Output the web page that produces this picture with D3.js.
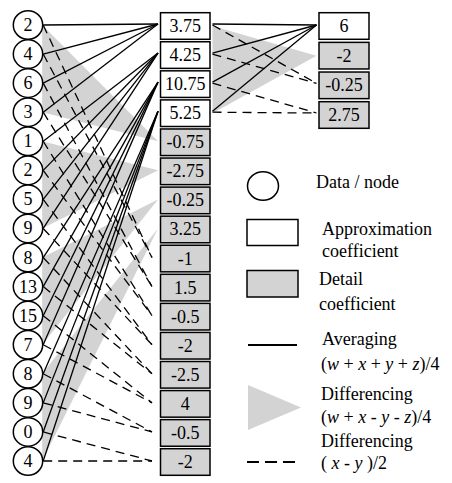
<!DOCTYPE html>
<html>
<head>
<meta charset="utf-8">
<script src="https://cdn.jsdelivr.net/npm/d3@7"></script>
<style>
  body { margin: 0; background: #fff; }
  svg text { font-family: "Liberation Serif", Tinos, "Times New Roman", Times, "DejaVu Serif", serif; font-size: 18px; fill: #000; }
</style>
</head>
<body>
<div id="chart"></div>
<script>
// input data (level 0)
var nodeValues = [2, 4, 6, 3, 1, 2, 5, 9, 8, 13, 15, 7, 8, 9, 0, 4];
// level 1: 4 averages, 4 (w+x-y-z)/4, 8 (x-y)/2
var level1Labels = ["3.75", "4.25", "10.75", "5.25", "-0.75", "-2.75", "-0.25", "3.25",
  "-1", "1.5", "-0.5", "-2", "-2.5", "4", "-0.5", "-2"];
var level1Approx = [true, true, true, true, false, false, false, false,
  false, false, false, false, false, false, false, false];
// level 2
var level2Labels = ["6", "-2", "-0.25", "2.75"];
var level2Approx = [true, false, false, false];

var svgWidth = 452;
var svgHeight = 483;
var grey = "#d3d3d3";

var svg = d3.select("#chart")
  .append("svg")
  .attr("width", svgWidth)
  .attr("height", svgHeight)
  .attr("font-family", "Liberation Serif, serif");

// scales for row positions
var yNode = d3.scaleLinear().domain([0, nodeValues.length - 1]).range([25, 461]);
var yBox1 = d3.scaleLinear().domain([0, level1Labels.length - 1]).range([26, 462]);
var yBox2 = d3.scaleLinear().domain([0, level2Labels.length - 1]).range([26, 115]);

var nodeX = 28, nodeRx = 14.7, nodeRy = 14.3;
var nodeOut = nodeX + nodeRx + 0.5;
var box1X = 160.5, box1W = 49.5, boxH = 26.6;
var box1In = 158, box1Out = 212.5;
var box2X = 319, box2W = 50;
var box2In = 316.5;

var links = svg.append("g");

// gray triangles: (w + x - y - z)/4
var tri = [];
d3.range(4).forEach(function(k) {
  tri.push([[nodeOut - 1, yNode(4 * k)], [nodeOut - 1, yNode(4 * k + 3)], [box1In, yBox1(4 + k) - 1]]);
});
tri.push([[box1Out, yBox1(0)], [box1Out, yBox1(3)], [box2In, yBox2(1)]]);

links.selectAll("path.tri")
  .data(tri)
  .enter()
  .append("path")
  .attr("class", "tri")
  .attr("d", d => "M" + d.join("L") + "Z")
  .attr("fill", grey);

// solid lines: averaging
var solid = [];
nodeValues.forEach(function(v, i) {
  solid.push([nodeOut, yNode(i), box1In, yBox1(Math.floor(i / 4)) - 2]);
});
d3.range(4).forEach(function(i) {
  solid.push([box1Out, yBox1(i) - 2, box2In, yBox2(0) - 1]);
});

// dashed lines: (x - y)/2
var dashed = [];
nodeValues.forEach(function(v, i) {
  dashed.push([nodeOut, yNode(i), box1In - 6, yBox1(8 + Math.floor(i / 2)) - 1]);
});
d3.range(4).forEach(function(i) {
  dashed.push([box1Out, yBox1(i) - 1, box2In, yBox2(2 + Math.floor(i / 2)) - 2]);
});

links.selectAll("line.avg")
  .data(solid)
  .enter()
  .append("line")
  .attr("class", "avg")
  .attr("x1", d => d[0]).attr("y1", d => d[1])
  .attr("x2", d => d[2]).attr("y2", d => d[3])
  .attr("stroke", "#000")
  .attr("stroke-width", 1.3);

links.selectAll("line.diff")
  .data(dashed)
  .enter()
  .append("line")
  .attr("class", "diff")
  .attr("x1", d => d[0]).attr("y1", d => d[1])
  .attr("x2", d => d[2]).attr("y2", d => d[3])
  .attr("stroke", "#000")
  .attr("stroke-width", 1.3)
  .attr("stroke-dasharray", "9,6");

// data nodes
var nodes = svg.append("g").selectAll("g")
  .data(nodeValues)
  .enter()
  .append("g")
  .attr("transform", (d, i) => `translate(${nodeX}, ${yNode(i)})`);

nodes.append("ellipse")
  .attr("rx", nodeRx)
  .attr("ry", nodeRy)
  .attr("fill", "#fff")
  .attr("stroke", "#000")
  .attr("stroke-width", 1.5);

nodes.append("text")
  .attr("text-anchor", "middle")
  .attr("y", 6)
  .text(d => d);

// coefficient boxes
function drawBoxes(labels, approx, x, w, yScale) {
  var g = svg.append("g").selectAll("g")
    .data(labels)
    .enter()
    .append("g")
    .attr("transform", (d, i) => `translate(${x}, ${yScale(i) - boxH / 2})`);

  g.append("rect")
    .attr("width", w)
    .attr("height", boxH)
    .attr("fill", (d, i) => approx[i] ? "#fff" : grey)
    .attr("stroke", "#000")
    .attr("stroke-width", 1.5);

  g.append("text")
    .attr("x", w / 2)
    .attr("y", boxH / 2 + 6)
    .attr("text-anchor", "middle")
    .text(d => d);
}

drawBoxes(level1Labels, level1Approx, box1X, box1W, yBox1);
drawBoxes(level2Labels, level2Approx, box2X, box2W, yBox2);

// legend
var legend = svg.append("g");

legend.append("ellipse")
  .attr("cx", 263).attr("cy", 186)
  .attr("rx", 15.5).attr("ry", 14.3)
  .attr("fill", "#fff").attr("stroke", "#000").attr("stroke-width", 1.5);
legend.append("text").attr("x", 316).attr("y", 188).text("Data / node");

legend.append("rect")
  .attr("x", 247).attr("y", 219.5).attr("width", 51).attr("height", 26)
  .attr("fill", "#fff").attr("stroke", "#000").attr("stroke-width", 1.5);
legend.append("text").attr("x", 322).attr("y", 235).text("Approximation");
legend.append("text").attr("x", 322).attr("y", 257).text("coefficient");

legend.append("rect")
  .attr("x", 247).attr("y", 270.5).attr("width", 51).attr("height", 26.5)
  .attr("fill", grey).attr("stroke", "#000").attr("stroke-width", 1.5);
legend.append("text").attr("x", 319).attr("y", 285).text("Detail");
legend.append("text").attr("x", 319).attr("y", 310).text("coefficient");

legend.append("line")
  .attr("x1", 248).attr("y1", 345).attr("x2", 297).attr("y2", 345)
  .attr("stroke", "#000").attr("stroke-width", 2);
legend.append("text").attr("x", 322).attr("y", 345).text("Averaging");

function formula(y, parts) {
  var t = legend.append("text").attr("x", 321).attr("y", y);
  parts.forEach(function(p) {
    t.append("tspan")
      .attr("font-style", p[1] ? "italic" : "normal")
      .text(p[0]);
  });
}
formula(370, [["(", 0], ["w", 1], [" + ", 0], ["x", 1], [" + ", 0], ["y", 1], [" + ", 0], ["z", 1], [")/4", 0]]);

legend.append("path")
  .attr("d", "M248,385L301,407.5L248,430Z")
  .attr("fill", grey);
legend.append("text").attr("x", 321).attr("y", 400).text("Differencing");
formula(423, [["(", 0], ["w", 1], [" + ", 0], ["x", 1], [" - ", 0], ["y", 1], [" - ", 0], ["z", 1], [")/4", 0]]);

legend.append("line")
  .attr("x1", 247).attr("y1", 462).attr("x2", 296).attr("y2", 462)
  .attr("stroke", "#000").attr("stroke-width", 2)
  .attr("stroke-dasharray", "12,6");
legend.append("text").attr("x", 321).attr("y", 447).text("Differencing");
formula(469, [["( ", 0], ["x", 1], [" - ", 0], ["y", 1], [" )/2", 0]]);
</script>
</body>
</html>
